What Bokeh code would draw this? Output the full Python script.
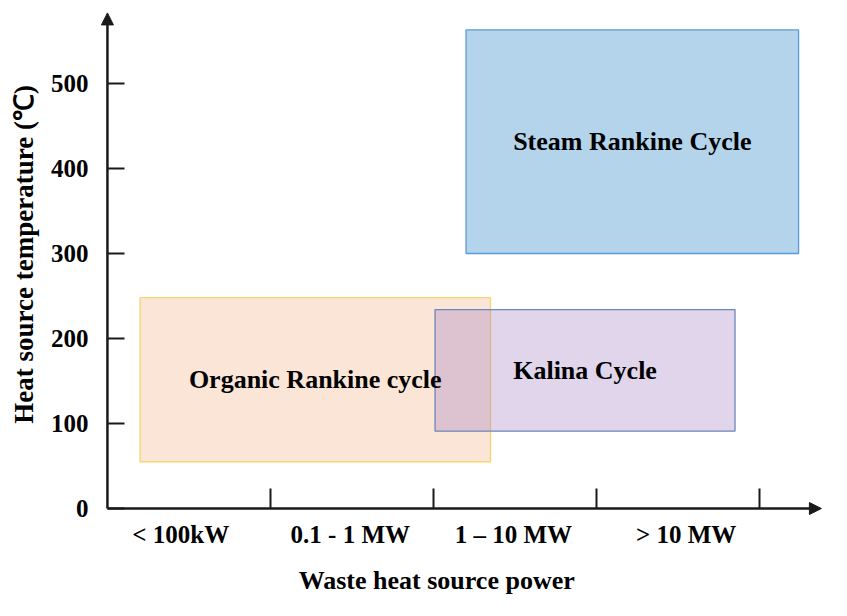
import math
from bokeh.plotting import figure
from bokeh.models import Range1d, FixedTicker, Arrow, NormalHead, ColumnDataSource, Label
from bokeh.core.properties import value
from bokeh.embed import file_html
from bokeh.resources import INLINE

# ---- data ----
power_categories = ["< 100kW", "0.1 - 1 MW", "1 \u2013 10 MW", "> 10 MW"]
category_label_at = [0.45, 1.49, 2.49, 3.55]
category_edges = [1, 2, 3, 4]
temperature_ticks = [0, 100, 200, 300, 400, 500]

cycles = ["Organic Rankine cycle", "Kalina Cycle", "Steam Rankine Cycle"]
power_start = [0.2, 2.01, 2.2]     # in category units (0 = origin, 1 per category)
power_end = [2.35, 3.85, 4.24]
temp_low = [55, 91, 300]           # degrees C
temp_high = [248, 234, 563]

x_axis_end = 4.38                  # arrow tips
y_axis_end = 583

FONT = "Liberation Serif"
AX = "#1a1a1a"

p = figure(width=831, height=600, output_backend="svg", toolbar_location=None,
           x_range=Range1d(-0.656, 4.442), y_range=Range1d(-108.2, 597.6),
           min_border_left=0, min_border_right=0, min_border_top=0,
           min_border_bottom=0)
p.outline_line_color = None
p.xgrid.visible = False
p.ygrid.visible = False
p.background_fill_color = "white"

fills = ["#fbe5d6", "#9e7cc0", "#b4d4ec"]
alphas = [1.0, 0.32, 1.0]
lines = ["#f9d36e", "#6f86b8", "#5b9bd5"]
for i in range(len(cycles)):
    p.quad(left=[power_start[i]], right=[power_end[i]],
           bottom=[temp_low[i]], top=[temp_high[i]],
           fill_color=fills[i], fill_alpha=alphas[i],
           line_color=lines[i], line_width=1.3)

src = ColumnDataSource(dict(
    x=[(a + b) / 2 for a, b in zip(power_start, power_end)],
    y=[(a + b) / 2 for a, b in zip(temp_low, temp_high)],
    t=cycles))
p.text(x="x", y="y", text="t", source=src, text_font=value(FONT),
       text_font_style="bold", text_font_size="26px", text_color="black",
       text_align="center", text_baseline="middle")

# x axis (drawn at temperature 0)
xa = p.xaxis[0]
xa.fixed_location = 0
xa.ticker = FixedTicker(ticks=category_label_at, minor_ticks=category_edges)
xa.major_label_overrides = {pos: lab for pos, lab in zip(category_label_at, power_categories)}
xa.major_tick_in = 0
xa.major_tick_out = 0
xa.minor_tick_in = 20
xa.minor_tick_out = 0
xa.minor_tick_line_width = 2
xa.minor_tick_line_color = AX
xa.axis_line_color = None
xa.major_label_standoff = 12
xa.major_label_text_font = FONT
xa.major_label_text_font_style = "bold"
xa.major_label_text_font_size = "25px"
xa.major_label_text_color = "black"

p.add_layout(Label(x=2.02, y=-85, text="Waste heat source power",
                   text_font=FONT, text_font_style="bold", text_font_size="26px",
                   text_color="black", text_align="center", text_baseline="middle"))

# y axis (drawn at power 0)
ya = p.yaxis[0]
ya.fixed_location = 0
ya.ticker = FixedTicker(ticks=temperature_ticks, minor_ticks=[])
ya.major_tick_in = 17
ya.major_tick_out = 0
ya.major_tick_line_width = 2
ya.major_tick_line_color = AX
ya.axis_line_color = None
ya.major_label_standoff = 19
ya.major_label_text_font = FONT
ya.major_label_text_font_style = "bold"
ya.major_label_text_font_size = "25px"
ya.major_label_text_color = "black"

p.add_layout(Label(x=-0.51, y=299, angle=math.pi / 2,
                   text="Heat source temperature (\u2103)",
                   text_font=FONT, text_font_style="bold", text_font_size="27px",
                   text_color="black", text_align="center", text_baseline="middle"))

# axis lines with arrow heads
p.add_layout(Arrow(end=NormalHead(size=12, fill_color=AX, line_color=AX),
                   x_start=0, y_start=0, x_end=0, y_end=y_axis_end,
                   line_color=AX, line_width=2.5))
p.add_layout(Arrow(end=NormalHead(size=12, fill_color=AX, line_color=AX),
                   x_start=0, y_start=0, x_end=x_axis_end, y_end=0,
                   line_color=AX, line_width=2.5))

open("out.html", "w").write(file_html(p, INLINE))
